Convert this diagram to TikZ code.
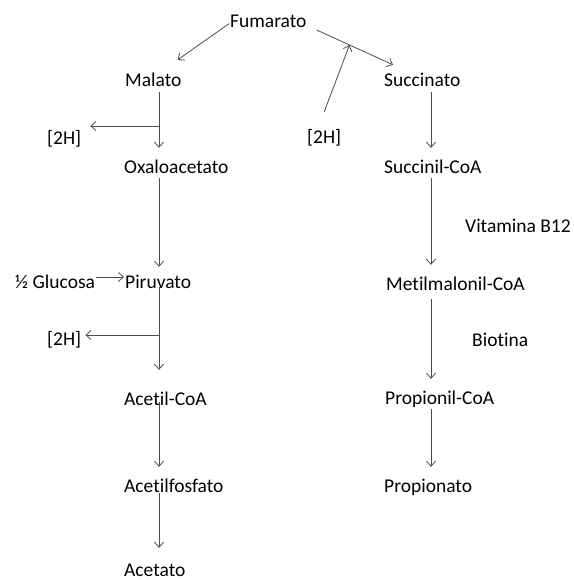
\documentclass[tikz,border=0pt]{standalone}
\usepackage{fontspec}
\setmainfont{Carlito}[Ligatures={NoCommon}]
\usepackage{tikz}
\usetikzlibrary{arrows.meta}

\begin{document}
\begin{tikzpicture}[x=1pt,y=-1pt,
  met/.style={inner sep=0pt,anchor=base west,text height=14pt,text depth=4pt,font=\fontsize{19.5}{23}\selectfont},
  arr/.style={-{Straight Barb[length=5pt,width=9pt]},line width=0.8pt,color=black!70,shorten <=1pt,shorten >=11pt}]
  \useasboundingbox (0,0) rectangle (573,580);
  \coordinate (colL) at (159,0);\coordinate (colR) at (431,0);
  \node[met](fum) at (230,28){Fumarato};
  \node[met](mal) at (125,87){Malato};
  \node[met](suc) at (384,87){Succinato};
  \node[met](h2a) at (47,145){[2H]};
  \node[met](h2c) at (307,143){[2H]};
  \node[met](oxa) at (124,173){Oxaloacetato};
  \node[met](sca) at (384,173){Succinil-CoA};
  \node[met](vb12) at (465,232){Vitamina B12};
  \node[met](glu) at (15,288){½ Glucosa};
  \node[met](pir) at (125,288){Piruvato};
  \node[met](mmc) at (386,290){Metilmalonil-CoA};
  \node[met](h2b) at (47,345){[2H]};
  \node[met](bio) at (472,346){Biotina};
  \node[met](aca) at (124,405){Acetil-CoA};
  \node[met](pca) at (385,404){Propionil-CoA};
  \node[met](acp) at (124,492){Acetilfosfato};
  \node[met](pro) at (384,492){Propionato};
  \node[met](ace) at (124,576){Acetato};
  % top split
  \draw[arr,shorten >=0pt](fum.west)--([xshift=-4pt,yshift=13pt]mal.north east);
  \draw[arr,shorten <=0pt,shorten >=0pt]([xshift=10pt,yshift=-7pt]fum.east)--coordinate[pos=0.43](meet)([xshift=9pt,yshift=8pt]suc.north west);
  \draw[arr,shorten <=0pt,shorten >=0pt]([yshift=17pt]h2c.north)--(meet);
  % left branch
  \coordinate (br1) at (159,126);\coordinate (br2) at (159,335);
  \draw[arr](mal.south -| colL)--(oxa.north -| colL);
  \draw[arr,shorten <=0pt,shorten >=9pt](br1)--(br1 -| h2a.east);
  \draw[arr,shorten >=7pt](oxa.south -| colL)--(pir.north -| colL);
  \draw[arr,shorten <=1pt,shorten >=1pt]([yshift=6pt]glu.east)--([yshift=6pt]pir.west);
  \draw[arr,shorten <=-5pt,shorten >=21pt](pir.south -| colL)--(aca.north -| colL);
  \draw[arr,shorten <=0pt,shorten >=4pt](br2)--(br2 -| h2b.east);
  \draw[arr,shorten <=-7pt](aca.south -| colL)--(acp.north -| colL);
  \draw[arr,shorten <=-3pt,shorten >=14pt](acp.south -| colL)--(ace.north -| colL);
  % right branch
  \draw[arr](suc.south -| colR)--(sca.north -| colR);
  \draw[arr](sca.south -| colR)--(mmc.north -| colR);
  \draw[arr,shorten <=5pt](mmc.south -| colR)--(pca.north -| colR);
  \draw[arr](pca.south -| colR)--(pro.north -| colR);
\end{tikzpicture}
\end{document}
